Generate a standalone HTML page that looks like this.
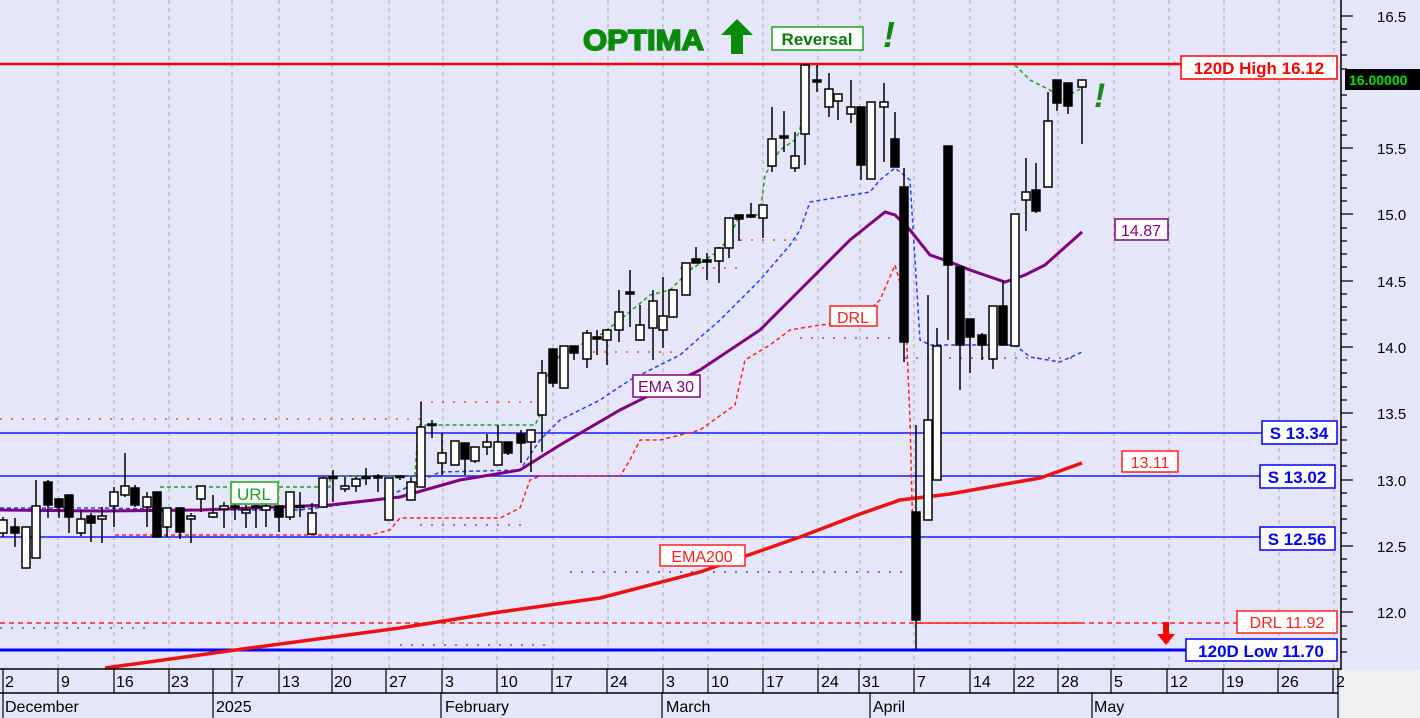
<!DOCTYPE html>
<html><head><meta charset="utf-8"><style>
html,body{margin:0;padding:0;background:#e6e6fa;}
svg{display:block;font-family:"Liberation Sans",sans-serif;}
</style></head><body>
<svg width="1420" height="718" viewBox="0 0 1420 718" xmlns="http://www.w3.org/2000/svg">
<rect x="0" y="0" width="1420" height="718" fill="#e6e6fa"/>
<rect x="1341" y="670" width="79" height="48" fill="#f0f0f0"/>
<!-- grid -->
<g stroke="#b4b4b4" stroke-width="1.2" stroke-dasharray="4,4">
<line x1="58" y1="0" x2="58" y2="668"/><line x1="114" y1="0" x2="114" y2="668"/><line x1="169" y1="0" x2="169" y2="668"/><line x1="232" y1="0" x2="232" y2="668"/><line x1="279" y1="0" x2="279" y2="668"/><line x1="332" y1="0" x2="332" y2="668"/><line x1="389" y1="0" x2="389" y2="668"/><line x1="443" y1="0" x2="443" y2="668"/><line x1="497" y1="0" x2="497" y2="668"/><line x1="553" y1="0" x2="553" y2="668"/><line x1="608" y1="0" x2="608" y2="668"/><line x1="663" y1="0" x2="663" y2="668"/><line x1="708" y1="0" x2="708" y2="668"/><line x1="763" y1="0" x2="763" y2="668"/><line x1="818" y1="0" x2="818" y2="668"/><line x1="860" y1="0" x2="860" y2="668"/><line x1="914" y1="0" x2="914" y2="668"/><line x1="970" y1="0" x2="970" y2="668"/><line x1="1015" y1="0" x2="1015" y2="668"/><line x1="1058" y1="0" x2="1058" y2="668"/><line x1="1114" y1="0" x2="1114" y2="668"/><line x1="1169" y1="0" x2="1169" y2="668"/><line x1="1224" y1="0" x2="1224" y2="668"/><line x1="1279" y1="0" x2="1279" y2="668"/><line x1="1334" y1="0" x2="1334" y2="668"/>
</g>
<!-- dotted levels -->
<g fill="none" stroke-width="1.5" stroke-dasharray="2,9">
<polyline stroke="#ff4040" points="0,419 420,419"/>
<polyline stroke="#ff4040" points="420,402 535,402"/>
<polyline stroke="#ff4040" points="560,352 680,352"/>
<polyline stroke="#ff4040" points="680,268 740,268"/>
<polyline stroke="#ff4040" points="740,240 800,240"/>
<polyline stroke="#a040a0" points="420,525 525,525"/>
<polyline stroke="#a040a0" points="800,338 905,338"/>
<polyline stroke="#a040a0" points="905,358 1080,358"/>
<polyline stroke="#4040ff" points="570,572 905,572"/>
<polyline stroke="#606060" points="400,645 545,645"/>
<polyline stroke="#606060" points="0,628 150,628"/>
</g>
<!-- horizontal levels -->
<line x1="0" y1="64" x2="1181" y2="64" stroke="#ff0000" stroke-width="2.5"/>
<line x1="0" y1="433" x2="1262" y2="433" stroke="#1a1aff" stroke-width="1.5"/>
<line x1="0" y1="476" x2="1262" y2="476" stroke="#1a1aff" stroke-width="1.5"/>
<line x1="0" y1="537" x2="1262" y2="537" stroke="#1a1aff" stroke-width="1.5"/>
<line x1="0" y1="623" x2="1237" y2="623" stroke="#ff2020" stroke-width="1.5" stroke-dasharray="5,4"/>
<line x1="916" y1="623" x2="1080" y2="623" stroke="#ff2020" stroke-width="1.5"/>
<line x1="0" y1="650" x2="1186" y2="650" stroke="#0000ff" stroke-width="3"/>
<!-- dashed indicator lines -->
<polyline fill="none" stroke="#ff2020" stroke-width="1.5" stroke-dasharray="4,3" points="115,535 150,535 370,535 390,530 400,518 500,518 520,508 530,480 540,476 620,476 630,460 640,440 660,440 700,430 735,405 745,360 770,345 790,330 820,325 855,322 880,300 895,265 905,300 910,420 915,620"/>
<polyline fill="none" stroke="#2040ff" stroke-width="1.5" stroke-dasharray="4,3" points="0,508 100,508 200,510 300,510 380,500 440,472 520,470 540,440 560,420 600,400 630,380 680,355 720,320 760,280 790,245 800,230 810,202 870,192 880,180 895,168 910,180 920,340 930,345 1015,345 1030,357 1060,362 1082,352"/>
<polyline fill="none" stroke="#20a020" stroke-width="1.5" stroke-dasharray="4,3" points="160,487 330,487 330,476 415,476 418,430 420,425 535,425 540,415 545,380 560,355 600,335 620,320 650,295 670,290 690,270 720,250 730,235 740,215 760,215 765,175 780,150 795,140 800,130 805,80 810,65"/>
<polyline fill="none" stroke="#20a020" stroke-width="1.5" stroke-dasharray="4,3" points="1015,65 1030,80 1050,90 1060,100 1082,88"/>
<!-- EMA200 -->
<polyline fill="none" stroke="#ee1111" stroke-width="3.5" points="105,668 250,648 400,628 500,612 600,598 700,572 800,537 860,514 900,500 950,494 1000,485 1040,478 1082,463"/>
<!-- EMA30 -->
<polyline fill="none" stroke="#800080" stroke-width="3" points="0,510 100,511 200,510 330,505 400,497 460,480 520,470 560,445 620,410 700,370 760,330 800,290 850,240 885,212 895,215 910,230 930,255 950,262 970,270 1005,282 1025,275 1045,265 1082,232"/>
<!-- candles -->
<g stroke="#000" stroke-width="1.5">
<path d="M3 517V537M15 518V547M26 527V568M36 480V558M48 480V518M59 498V518M69 495V533M81 510V536M91 513V542M102 507V543M114 487V527M125 453V497M135 485V507M147 492V527M157 492V537M167 508V537M180 507V539M191 513V543M201 486V512M213 495V518M224 502V528M235 500V520M246 505V528M256 505V528M266 503V527M279 506V532M290 492V520M300 492V517M312 503V534M323 477V507M333 470V502M345 477V492M356 477V492M366 468V485M378 474V492M389 478V520M400 476V480M411 477V500M421 402V487M432 420V438M442 433V475M455 441V465M465 443V475M475 447V463M487 434V455M498 425V465M508 442V455M521 430V463M531 430V472M542 360V452M553 349V387M564 346V388M574 346V360M587 330V368M597 330V355M607 330V365M619 290V342M630 270V327M640 305V340M653 290V360M663 277V348M673 290V317M686 263V295M696 247V263M707 253V280M719 247V283M729 218V258M739 215V241M751 203V218M763 205V238M772 107V172M784 111V152M795 132V172M805 65V165M817 65V92M829 73V117M838 94V120M851 80V123M861 107V180M871 102V179M884 83V162M895 112V167M904 168V362M916 425V650M928 295V520M937 328V480M948 146V340M960 267V390M970 319V373M982 333V360M993 306V369M1003 280V345M1015 214V346M1026 158V231M1036 163V213M1048 92V187M1057 80V111M1068 83V114M1082 80V144"/>
</g>
<g stroke="#000" stroke-width="1.5" fill="#fff">
<rect x="-1" y="520" width="8" height="13"/><rect x="22" y="527" width="8" height="41"/><rect x="32" y="506" width="8" height="52"/><rect x="77" y="519" width="8" height="14"/><rect x="98" y="516" width="8" height="3"/><rect x="110" y="492" width="8" height="14"/><rect x="121" y="486" width="8" height="9"/><rect x="143" y="497" width="8" height="10"/><rect x="163" y="508" width="8" height="19"/><rect x="187" y="516" width="8" height="3"/><rect x="197" y="486" width="8" height="13"/><rect x="209" y="513" width="8" height="4"/><rect x="220" y="506" width="8" height="3"/><rect x="242" y="510" width="8" height="3"/><rect x="262" y="506" width="8" height="4"/><rect x="286" y="492" width="8" height="25"/><rect x="308" y="513" width="8" height="21"/><rect x="319" y="478" width="8" height="29"/><rect x="341" y="486" width="8" height="3"/><rect x="352" y="479" width="8" height="7"/><rect x="385" y="478" width="8" height="42"/><rect x="407" y="482" width="8" height="18"/><rect x="417" y="427" width="8" height="60"/><rect x="438" y="453" width="8" height="10"/><rect x="451" y="441" width="8" height="24"/><rect x="471" y="447" width="8" height="14"/><rect x="483" y="442" width="8" height="5"/><rect x="494" y="442" width="8" height="23"/><rect x="527" y="430" width="8" height="12"/><rect x="538" y="373" width="8" height="42"/><rect x="560" y="346" width="8" height="42"/><rect x="583" y="333" width="8" height="26"/><rect x="603" y="330" width="8" height="10"/><rect x="615" y="312" width="8" height="18"/><rect x="636" y="325" width="8" height="15"/><rect x="649" y="301" width="8" height="27"/><rect x="659" y="316" width="8" height="14"/><rect x="669" y="290" width="8" height="27"/><rect x="682" y="263" width="8" height="32"/><rect x="715" y="248" width="8" height="13"/><rect x="725" y="218" width="8" height="30"/><rect x="759" y="205" width="8" height="13"/><rect x="768" y="139" width="8" height="27"/><rect x="791" y="156" width="8" height="12"/><rect x="801" y="65" width="8" height="69"/><rect x="825" y="89" width="8" height="18"/><rect x="834" y="94" width="8" height="7"/><rect x="847" y="107" width="8" height="7"/><rect x="867" y="102" width="8" height="77"/><rect x="880" y="102" width="8" height="5"/><rect x="924" y="420" width="8" height="100"/><rect x="933" y="346" width="8" height="134"/><rect x="989" y="306" width="8" height="53"/><rect x="1011" y="214" width="8" height="132"/><rect x="1022" y="192" width="8" height="8"/><rect x="1044" y="121" width="8" height="66"/><rect x="1078" y="80" width="8" height="7"/>
</g>
<g stroke="#000" stroke-width="1.5" fill="#000">
<rect x="11" y="527" width="8" height="6"/><rect x="44" y="482" width="8" height="23"/><rect x="55" y="499" width="8" height="8"/><rect x="65" y="495" width="8" height="22"/><rect x="87" y="516" width="8" height="7"/><rect x="131" y="488" width="8" height="17"/><rect x="153" y="492" width="8" height="45"/><rect x="176" y="508" width="8" height="24"/><rect x="231" y="506" width="8" height="1.5"/><rect x="252" y="506" width="8" height="1.5"/><rect x="275" y="506" width="8" height="11"/><rect x="296" y="506" width="8" height="1.5"/><rect x="329" y="477" width="8" height="1.5"/><rect x="362" y="477" width="8" height="1.5"/><rect x="374" y="476" width="8" height="2"/><rect x="396" y="476" width="8" height="1.5"/><rect x="428" y="424" width="8" height="1.5"/><rect x="461" y="443" width="8" height="16"/><rect x="504" y="442" width="8" height="11"/><rect x="517" y="434" width="8" height="9"/><rect x="549" y="349" width="8" height="34"/><rect x="570" y="346" width="8" height="7"/><rect x="593" y="337" width="8" height="2"/><rect x="626" y="292" width="8" height="2"/><rect x="692" y="259" width="8" height="4"/><rect x="703" y="260" width="8" height="2"/><rect x="735" y="215" width="8" height="4"/><rect x="747" y="215" width="8" height="2"/><rect x="780" y="136" width="8" height="2"/><rect x="813" y="80" width="8" height="2"/><rect x="857" y="107" width="8" height="58"/><rect x="891" y="139" width="8" height="28"/><rect x="900" y="187" width="8" height="155"/><rect x="912" y="512" width="8" height="108"/><rect x="944" y="146" width="8" height="119"/><rect x="956" y="267" width="8" height="78"/><rect x="966" y="319" width="8" height="18"/><rect x="978" y="335" width="8" height="10"/><rect x="999" y="306" width="8" height="39"/><rect x="1032" y="190" width="8" height="21"/><rect x="1053" y="80" width="8" height="23"/><rect x="1064" y="83" width="8" height="23"/>
</g>
<!-- top text -->
<text x="583" y="50" font-size="29" font-weight="bold" fill="#0a8a0a" stroke="#0a8a0a" stroke-width="1.6" textLength="121" lengthAdjust="spacingAndGlyphs">OPTIMA</text>
<path d="M737 19 L753 35 L743 35 L743 54 L731 54 L731 35 L721 35 Z" fill="#0a8a0a"/>
<rect x="772" y="27" width="91" height="23" fill="#fff" stroke="#20a020" stroke-width="1.5"/>
<text x="817" y="45" font-size="17" font-weight="bold" fill="#0a7a0a" text-anchor="middle">Reversal</text>
<text x="883" y="47" font-size="36" font-weight="bold" font-style="italic" fill="#0a8a0a">!</text>
<text x="1094" y="107" font-size="34" font-weight="bold" font-style="italic" fill="#1a8a1a">!</text>
<!-- labels -->
<rect x="231" y="482" width="47" height="22" fill="#fff" stroke="#20a020" stroke-width="1.5"/>
<text x="254" y="500" font-size="17" fill="#20a020" text-anchor="middle">URL</text>
<rect x="633" y="375" width="67" height="22" fill="#fff" stroke="#800080" stroke-width="1.5"/>
<text x="666" y="392" font-size="16" fill="#800080" text-anchor="middle">EMA 30</text>
<rect x="830" y="306" width="47" height="20" fill="#fff" stroke="#ff2020" stroke-width="1.5"/>
<text x="853" y="323" font-size="16" fill="#ff2020" text-anchor="middle">DRL</text>
<rect x="660" y="545" width="85" height="21" fill="#fff" stroke="#ff2020" stroke-width="1.5"/>
<text x="702" y="562" font-size="16" fill="#ff2020" text-anchor="middle">EMA200</text>
<rect x="1115" y="219" width="53" height="21" fill="#fff" stroke="#800080" stroke-width="1.5"/>
<text x="1141" y="236" font-size="16" fill="#800080" text-anchor="middle">14.87</text>
<rect x="1122" y="451" width="56" height="21" fill="#fff" stroke="#ff2020" stroke-width="1.5"/>
<text x="1150" y="468" font-size="16" fill="#ff2020" text-anchor="middle">13.11</text>
<rect x="1181" y="56" width="156" height="23" fill="#fff" stroke="#ff0000" stroke-width="1.5"/>
<text x="1259" y="74" font-size="17" font-weight="bold" fill="#ff0000" text-anchor="middle">120D High 16.12</text>
<rect x="1262" y="421" width="75" height="23" fill="#fff" stroke="#0000ff" stroke-width="1.5"/>
<text x="1299" y="439" font-size="17" font-weight="bold" fill="#0000ff" text-anchor="middle">S 13.34</text>
<rect x="1260" y="465" width="75" height="23" fill="#fff" stroke="#0000ff" stroke-width="1.5"/>
<text x="1297" y="483" font-size="17" font-weight="bold" fill="#0000ff" text-anchor="middle">S 13.02</text>
<rect x="1260" y="527" width="75" height="23" fill="#fff" stroke="#0000ff" stroke-width="1.5"/>
<text x="1297" y="545" font-size="17" font-weight="bold" fill="#0000ff" text-anchor="middle">S 12.56</text>
<rect x="1237" y="611" width="100" height="22" fill="#fff" stroke="#ff2020" stroke-width="1.5"/>
<text x="1287" y="628" font-size="16" fill="#ff2020" text-anchor="middle">DRL 11.92</text>
<rect x="1186" y="639" width="151" height="22" fill="#fff" stroke="#0000ff" stroke-width="1.5"/>
<text x="1261" y="657" font-size="17" font-weight="bold" fill="#0000ff" text-anchor="middle">120D Low 11.70</text>
<path d="M1163 622 h6 v12 h6 l-9 11 l-9 -11 h6 Z" fill="#ff0000"/>
<!-- right axis -->
<line x1="1341" y1="0" x2="1341" y2="670" stroke="#000" stroke-width="1.5"/>
<g stroke="#000" stroke-width="1.2">
<path d="M1341 16h12M1341 148h12M1341 214h12M1341 281h12M1341 347h12M1341 413h12M1341 480h12M1341 546h12M1341 612h12"/>
<path d="M1341 29h6M1341 42h6M1341 55h6M1341 69h6M1341 95h6M1341 108h6M1341 121h6M1341 135h6M1341 161h6M1341 175h6M1341 188h6M1341 201h6M1341 228h6M1341 241h6M1341 254h6M1341 267h6M1341 294h6M1341 307h6M1341 320h6M1341 334h6M1341 360h6M1341 373h6M1341 387h6M1341 400h6M1341 427h6M1341 440h6M1341 453h6M1341 466h6M1341 493h6M1341 506h6M1341 519h6M1341 533h6M1341 559h6M1341 572h6M1341 586h6M1341 599h6M1341 626h6M1341 639h6M1341 652h6"/>
</g>
<g font-size="15" fill="#000">
<text x="1377" y="22">16.5</text><text x="1377" y="154">15.5</text><text x="1377" y="220">15.0</text><text x="1377" y="287">14.5</text><text x="1377" y="353">14.0</text><text x="1377" y="419">13.5</text><text x="1377" y="486">13.0</text><text x="1377" y="552">12.5</text><text x="1377" y="618">12.0</text>
</g>
<rect x="1345" y="69" width="75" height="21" fill="#000"/>
<text x="1349" y="85" font-size="14" font-weight="bold" fill="#00e000">16.00000</text>
<!-- bottom axis -->
<line x1="0" y1="669" x2="1341" y2="669" stroke="#000" stroke-width="1.5"/>
<line x1="0" y1="693" x2="1338" y2="693" stroke="#000" stroke-width="1.5"/>
<g stroke="#000" stroke-width="1.2">
<path d="M3 669v49M58 669v24M114 669v24M169 669v24M213 669v24M232 669v24M279 669v24M332 669v24M386 669v24M442 669v24M497 669v24M552 669v24M607 669v24M663 669v24M708 669v24M763 669v24M818 669v24M859 669v24M914 669v24M970 669v24M1014 669v24M1058 669v24M1111 669v24M1167 669v24M1223 669v24M1278 669v24M1333 669v24"/>
<path d="M213 693v25M441 693v25M662 693v25M870 693v25M1092 693v25M1338 669v49"/>
</g>
<g font-size="16" fill="#000">
<text x="5" y="687">2</text><text x="61" y="687">9</text><text x="116" y="687">16</text><text x="171" y="687">23</text><text x="235" y="687">7</text><text x="282" y="687">13</text><text x="334" y="687">20</text><text x="389" y="687">27</text><text x="445" y="687">3</text><text x="500" y="687">10</text><text x="555" y="687">17</text><text x="610" y="687">24</text><text x="666" y="687">3</text><text x="711" y="687">10</text><text x="766" y="687">17</text><text x="821" y="687">24</text><text x="862" y="687">31</text><text x="917" y="687">7</text><text x="973" y="687">14</text><text x="1017" y="687">22</text><text x="1061" y="687">28</text><text x="1114" y="687">5</text><text x="1170" y="687">12</text><text x="1226" y="687">19</text><text x="1281" y="687">26</text><text x="1336" y="687">2</text>
<text x="5" y="712">December</text><text x="216" y="712">2025</text><text x="445" y="712">February</text><text x="666" y="712">March</text><text x="873" y="712">April</text><text x="1094" y="712">May</text>
</g>
</svg>
</body></html>
